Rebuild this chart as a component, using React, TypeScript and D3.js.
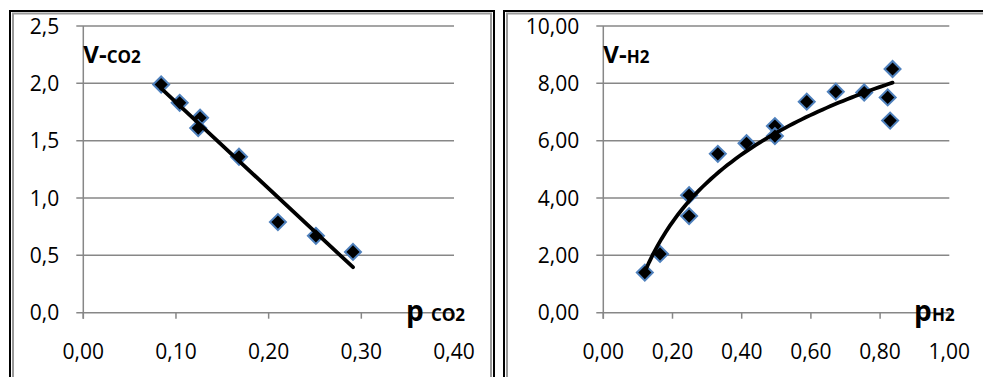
import React from "react";
import * as d3 from "d3";

// Left chart: CO2
const co2P = [0.084, 0.104, 0.126, 0.124, 0.168, 0.21, 0.251, 0.291];
const co2V = [1.99, 1.83, 1.7, 1.61, 1.36, 0.79, 0.67, 0.53];
const co2YTicks = [0, 0.5, 1.0, 1.5, 2.0, 2.5];
const co2XTicks = [0, 0.1, 0.2, 0.3, 0.4];

// Right chart: H2
const h2P = [0.12, 0.164, 0.248, 0.248, 0.331, 0.414, 0.496, 0.496, 0.588, 0.672, 0.754, 0.836, 0.822, 0.829];
const h2V = [1.4, 2.05, 4.1, 3.37, 5.54, 5.91, 6.51, 6.16, 7.36, 7.71, 7.68, 8.5, 7.51, 6.7];
const h2YTicks = [0, 2, 4, 6, 8, 10];
const h2XTicks = [0, 0.2, 0.4, 0.6, 0.8, 1.0];

const FONT = "'Open Sans', 'Liberation Sans', sans-serif";
const GRID = "#878787";
const MARK_STROKE = "#4f81bd";

const fmt = (d: number, dec: number) => d.toFixed(dec).replace(".", ",");

function linFit(xs: number[], ys: number[]) {
  const mx = d3.mean(xs)!;
  const my = d3.mean(ys)!;
  let sxy = 0, sxx = 0;
  xs.forEach((x, i) => { sxy += (x - mx) * (ys[i] - my); sxx += (x - mx) ** 2; });
  const b = sxy / sxx;
  return { a: my - b * mx, b };
}

type PanelProps = {
  xs: number[]; ys: number[];
  xTicks: number[]; yTicks: number[];
  xDomain: [number, number]; yDomain: [number, number];
  xRange: [number, number];
  xDec: number; yDec: number;
  fit: "lin" | "log";
  yTitle: string; xTitleMain: string; xTitleSub: string;
  xTitleX: number; xSubX: number;
};

function Panel(p: PanelProps) {
  const x = d3.scaleLinear().domain(p.xDomain).range(p.xRange);
  const y = d3.scaleLinear().domain(p.yDomain).range([312.7, 26]);
  const x0 = p.xRange[0];
  const x1 = p.xRange[1];
  const y0 = y(0);
  const sq = d3.symbol(d3.symbolSquare, 128)()!;
  const lo = d3.min(p.xs)!;
  const hi = d3.max(p.xs)!;
  let trend: [number, number][] = [];
  if (p.fit === "lin") {
    const { a, b } = linFit(p.xs, p.ys);
    trend = [[lo, a + b * lo], [hi, a + b * hi]];
  } else {
    const { a, b } = linFit(p.xs.map(Math.log), p.ys);
    trend = d3.range(0, 61).map((i) => {
      const xv = lo + ((hi - lo) * i) / 60;
      return [xv, a + b * Math.log(xv)] as [number, number];
    });
  }
  const line = d3.line<[number, number]>().x((d) => x(d[0])).y((d) => y(d[1]));
  return (
    <g>
      {p.yTicks.map((t) => (
        <g key={"y" + t}>
          <line x1={x0 - 7} x2={x1} y1={y(t)} y2={y(t)} stroke={GRID} strokeWidth={1.5} />
          <text x={x0 - 24} y={y(t)} dy="0.36em" textAnchor="end" fontFamily={FONT} fontSize={21} fill="#000">
            {fmt(t, p.yDec)}
          </text>
        </g>
      ))}
      <line x1={x0} x2={x0} y1={y(p.yDomain[1])} y2={y0 + 6} stroke={GRID} strokeWidth={1.5} />
      {p.xTicks.map((t) => (
        <g key={"x" + t}>
          <line x1={x(t)} x2={x(t)} y1={y0} y2={y0 + 6} stroke={GRID} strokeWidth={1.5} />
          <text x={x(t)} y={359} textAnchor="middle" fontFamily={FONT} fontSize={21} fill="#000">
            {fmt(t, p.xDec)}
          </text>
        </g>
      ))}
      {p.xs.map((xv, i) => (
        <path key={"m" + i} d={sq} transform={`translate(${x(xv)},${y(p.ys[i])}) rotate(45)`}
          fill="#000" stroke={MARK_STROKE} strokeWidth={2} />
      ))}
      <path d={line(trend)!} fill="none" stroke="#000" strokeWidth={3.8} strokeLinecap="round" />
      <text x={x0} y={63} fontFamily={FONT} fontWeight="bold" fill="#000">
        <tspan fontSize={24}>V-</tspan>
        <tspan fontSize={17}>{p.yTitle}</tspan>
      </text>
      <text x={p.xTitleX} y={321} fontFamily={FONT} fontWeight="bold" fill="#000">
        <tspan fontSize={28}>{p.xTitleMain}</tspan>
        <tspan x={p.xSubX} fontSize={17}>{p.xTitleSub}</tspan>
      </text>
    </g>
  );
}

export default function App() {
  return (
    <svg width={983} height={377} style={{ position: "absolute", left: 0, top: 0, background: "#fff" }}>
      <rect x={0} y={0} width={983} height={377} fill="#fff" />
      {/* left frame */}
      <path d="M10,377 V11 H494 V377" fill="none" stroke="#000" strokeWidth={2} />
      <path d="M13,377 V13.5 H491 V377" fill="none" stroke="#999" strokeWidth={2} />
      {/* right frame */}
      <path d="M504,377 V11 H983" fill="none" stroke="#000" strokeWidth={2} />
      <path d="M507,377 V13.5 H983" fill="none" stroke="#999" strokeWidth={2} />
      <Panel xs={co2P} ys={co2V} xTicks={co2XTicks} yTicks={co2YTicks}
        xDomain={[0, 0.4]} yDomain={[0, 2.5]} xRange={[83.3, 454]} xDec={2} yDec={1}
        fit="lin" yTitle="CO2" xTitleMain="p" xTitleSub="CO2" xTitleX={406} xSubX={431} />
      <Panel xs={h2P} ys={h2V} xTicks={h2XTicks} yTicks={h2YTicks}
        xDomain={[0, 1]} yDomain={[0, 10]} xRange={[603.3, 949.3]} xDec={2} yDec={2}
        fit="log" yTitle="H2" xTitleMain="p" xTitleSub="H2" xTitleX={914} xSubX={932} />
    </svg>
  );
}
